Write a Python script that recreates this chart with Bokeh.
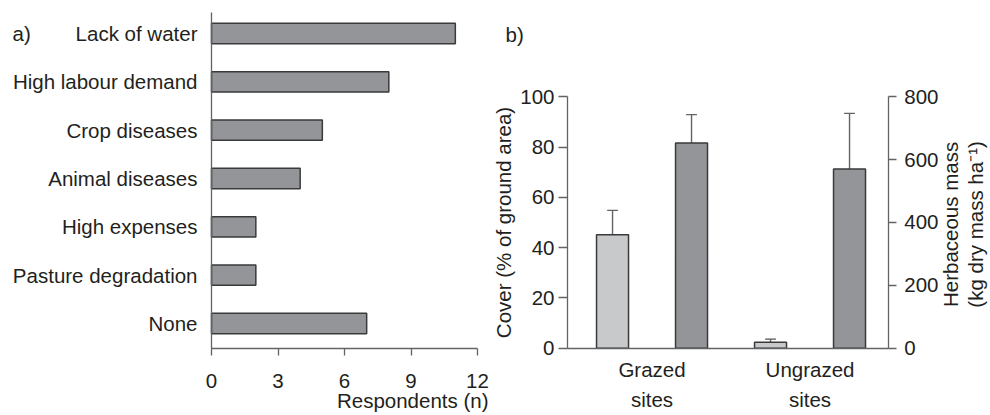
import math
from bokeh.plotting import figure
from bokeh.models import Range1d, LinearAxis, FixedTicker, Label
from bokeh.layouts import row
from bokeh.embed import file_html
from bokeh.resources import INLINE

# ---------------- data ----------------
# Panel a
constraints = ["Lack of water", "High labour demand", "Crop diseases",
               "Animal diseases", "High expenses", "Pasture degradation", "None"]
respondents = [11, 8, 5, 4, 2, 2, 7]
resp_ticks = [0, 3, 6, 9, 12]

# Panel b
site_names = ["Grazed", "Ungrazed"]
site_suffix = ["sites", "sites"]
cover = [45.1, 2.4]
cover_err = [9.7, 1.2]
mass = [653, 570]
mass_err = [90, 177]
cover_ticks = [0, 20, 40, 60, 80, 100]
mass_ticks = [0, 200, 400, 600, 800]

# ---------------- style ----------------
FONT = "Liberation Sans"
FS = "20.5px"
TXT = "#231f20"
AX = "#626366"
DARK = "#939598"
LIGHT = "#c8c9cb"
EDGE = "#3a3a3a"
BASE_SHIFT = 8   # labels' alphabetic baseline renders this many px lower


def style_axis(ax):
    ax.axis_line_color = AX
    ax.axis_line_width = 1.3
    ax.major_tick_line_color = AX
    ax.major_tick_line_width = 1.3
    ax.minor_tick_line_color = None
    ax.major_tick_in = 0
    ax.major_label_text_font = FONT
    ax.major_label_text_font_size = FS
    ax.major_label_text_color = TXT
    ax.axis_label_text_font = FONT
    ax.axis_label_text_font_size = FS
    ax.axis_label_text_color = TXT
    ax.axis_label_text_font_style = "normal"


def txt(**kw):
    kw.setdefault("text_font", FONT)
    kw.setdefault("text_font_size", FS)
    kw.setdefault("text_color", TXT)
    return Label(**kw)


H = 413

# ---------------- panel a ----------------
# The plotting area spans the whole canvas; axes are pinned with
# fixed_location so that free texts outside the axes are not clipped.
A_W = 490
a_x0, a_x1 = 211, 477           # canvas px of x = 0 and x = 12
a_top_row, a_bot_row = 33, 323  # canvas px of first / last row centres
n = len(constraints)
ys = [n - 1 - i for i in range(n)]
xmax = resp_ticks[-1]
pxu_x = (a_x1 - a_x0) / xmax
pxu_y = (a_bot_row - a_top_row) / (n - 1)


def ax_(px):
    return (px - a_x0) / pxu_x


def ay_(py):
    return (n - 1) - (py - a_top_row) / pxu_y


pa = figure(width=A_W, height=H, x_range=Range1d(ax_(0), ax_(A_W)),
            y_range=Range1d(ay_(H), ay_(0)), output_backend="svg",
            toolbar_location=None, min_border=0, outline_line_color=None)
pa.grid.visible = False
pa.hbar(y=ys, left=0, right=respondents, height=0.42, fill_color=DARK,
        line_color=EDGE, line_width=1.5)

y_lo, y_hi = ay_(348), ay_(12)
xa = pa.xaxis[0]
style_axis(xa)
xa.ticker = FixedTicker(ticks=resp_ticks)
xa.fixed_location = y_lo
xa.bounds = (0, xmax)
xa.major_tick_out = 7
xa.major_label_standoff = 18

ya = pa.yaxis[0]
style_axis(ya)
ya.ticker = FixedTicker(ticks=ys)
ya.major_label_overrides = {y: c for y, c in zip(ys, constraints)}
ya.fixed_location = 0
ya.bounds = (y_lo, y_hi)
ya.major_tick_out = 0
ya.major_label_standoff = 14

pa.add_layout(txt(x=ax_(488), y=ay_(408 - BASE_SHIFT), text="Respondents (n)",
                  text_align="right", text_baseline="alphabetic"))
pa.add_layout(txt(x=ax_(12), y=ay_(41 - BASE_SHIFT), text="a)",
                  text_align="left", text_baseline="alphabetic"))

# ---------------- panel b ----------------
B_W = 498
b_x0 = 77          # canvas px of the left axis
b_pxu = 79.0       # px per x unit
b_xs = -0.07       # x value of the left axis
b_xe = 3.99        # x value of the right axis
b_y0 = 347.7       # canvas px of zero
b_pyu = 2.515      # px per cover unit
mass_factor = mass_ticks[-1] / cover_ticks[-1]


def bx_(px):
    return b_xs + (px - b_x0) / b_pxu


def by_(py):
    return (b_y0 - py) / b_pyu


centers = [2 * i + 1 for i in range(len(site_names))]
xl = [c - 0.5 for c in centers]
xd = [c + 0.5 for c in centers]
bw = 0.405
cap = 0.068

pb = figure(width=B_W, height=H, x_range=Range1d(bx_(0), bx_(B_W)),
            y_range=Range1d(by_(H), by_(0)), output_backend="svg",
            toolbar_location=None, min_border=0, outline_line_color=None)
pb.grid.visible = False
pb.extra_y_ranges = {"mass": Range1d(by_(H) * mass_factor,
                                     by_(0) * mass_factor)}

cov_top = [v + e for v, e in zip(cover, cover_err)]
mass_top = [v + e for v, e in zip(mass, mass_err)]
pb.segment(x0=xl, y0=cover, x1=xl, y1=cov_top, line_color=AX, line_width=1.4)
pb.segment(x0=[x - cap for x in xl], y0=cov_top, x1=[x + cap for x in xl],
           y1=cov_top, line_color=AX, line_width=1.4)
pb.segment(x0=xd, y0=mass, x1=xd, y1=mass_top, line_color=AX, line_width=1.4,
           y_range_name="mass")
pb.segment(x0=[x - cap for x in xd], y0=mass_top, x1=[x + cap for x in xd],
           y1=mass_top, line_color=AX, line_width=1.4, y_range_name="mass")

pb.vbar(x=xl, top=cover, bottom=0, width=bw, fill_color=LIGHT,
        line_color=EDGE, line_width=1.5)
pb.vbar(x=xd, top=mass, bottom=0, width=bw, fill_color=DARK,
        line_color=EDGE, line_width=1.5, y_range_name="mass")

yl = pb.yaxis[0]
style_axis(yl)
yl.ticker = FixedTicker(ticks=cover_ticks)
yl.fixed_location = b_xs
yl.bounds = (cover_ticks[0], cover_ticks[-1])
yl.major_tick_out = 9
yl.major_label_standoff = 4
yl.axis_label = "Cover (% of ground area)"
yl.axis_label_standoff = 2

yr = LinearAxis(y_range_name="mass", ticker=FixedTicker(ticks=mass_ticks))
style_axis(yr)
yr.fixed_location = b_xe
yr.bounds = (mass_ticks[0], mass_ticks[-1])
yr.major_tick_out = 8
yr.major_label_standoff = 8
pb.add_layout(yr, "right")

xb = pb.xaxis[0]
style_axis(xb)
xb.ticker = FixedTicker(ticks=centers)
xb.major_label_overrides = {c: s for c, s in zip(centers, site_names)}
xb.fixed_location = 0
xb.bounds = (b_xs, b_xe)
xb.major_tick_out = 0
xb.major_label_standoff = 10

for c, s in zip(centers, site_suffix):
    pb.add_layout(txt(x=c, y=by_(407 - BASE_SHIFT), text=s,
                      text_align="center", text_baseline="alphabetic"))

mid = by_((b_y0 + (b_y0 - cover_ticks[-1] * b_pyu)) / 2 + 2)
pb.add_layout(txt(x=bx_(460), y=mid, text="Herbaceous mass", angle=math.pi / 2,
                  text_align="center", text_baseline="middle"))
pb.add_layout(txt(x=bx_(485), y=mid, text="(kg dry mass ha\u207b\u00b9)",
                  angle=math.pi / 2, text_align="center",
                  text_baseline="middle"))
pb.add_layout(txt(x=bx_(15), y=by_(42 - BASE_SHIFT), text="b)",
                  text_align="left", text_baseline="alphabetic"))

layout = row(pa, pb)
open("out.html", "w").write(file_html(layout, INLINE))
